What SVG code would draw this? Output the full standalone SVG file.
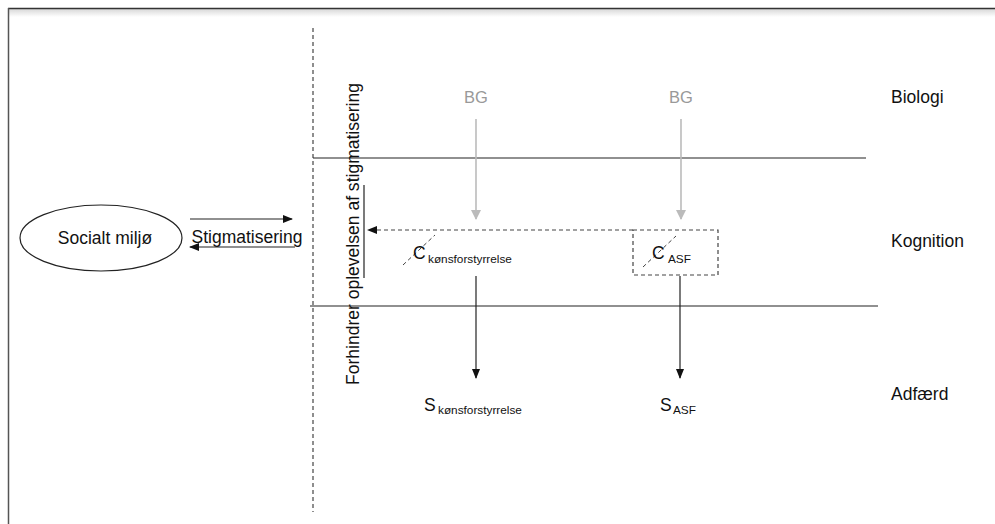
<svg xmlns="http://www.w3.org/2000/svg" width="995" height="524" viewBox="0 0 995 524">
  <style>
    .lbl { font-family: "Liberation Sans", Arial, sans-serif; font-size: 17.5px; fill: #111; }
    .sub { font-family: "Liberation Sans", Arial, sans-serif; font-size: 11.8px; fill: #111; }
    .grey { font-family: "Liberation Sans", Arial, sans-serif; font-size: 16.5px; fill: #999; }
    .solid { stroke: #222; stroke-width: 1.2; fill: none; }
    .dash { stroke: #444; stroke-width: 1.2; stroke-dasharray: 4 3; fill: none; }
    .gray { stroke: #bbb; stroke-width: 1.6; fill: none; }
  </style>
  <defs>
    <marker id="ah" markerWidth="10" markerHeight="8" refX="9" refY="4" orient="auto" markerUnits="userSpaceOnUse">
      <path d="M0,0 L10,4 L0,8 Z" fill="#111"/>
    </marker>
    <marker id="ahg" markerWidth="10" markerHeight="10" refX="9" refY="5" orient="auto" markerUnits="userSpaceOnUse">
      <path d="M0,0 L10,5 L0,10 Z" fill="#bbb"/>
    </marker>
    <linearGradient id="shade" x1="0" y1="0" x2="0" y2="1">
      <stop offset="0" stop-color="#d8d8d8"/>
      <stop offset="1" stop-color="#ffffff"/>
    </linearGradient>
  </defs>

  <rect x="0" y="0" width="995" height="524" fill="#fff"/>
  <!-- page frame -->
  <rect x="9" y="9" width="986" height="8" fill="url(#shade)"/>
  <line x1="8" y1="8.5" x2="995" y2="8.5" stroke="#333" stroke-width="1.5"/>
  <line x1="8.5" y1="8" x2="8.5" y2="524" stroke="#555" stroke-width="1.5"/>

  <!-- layer dividers -->
  <line x1="313" y1="28" x2="313" y2="512" class="dash"/>
  <line x1="313" y1="158" x2="866" y2="158" class="solid"/>
  <line x1="310" y1="306" x2="878" y2="306" class="solid"/>

  <g id="social">
    <ellipse cx="101" cy="238" rx="81" ry="33" fill="#fff" stroke="#222" stroke-width="1.2"/>
    <text x="105" y="244" class="lbl" text-anchor="middle">Socialt miljø</text>
  </g>

  <g id="stigma-label">
    <text x="247" y="243" class="lbl" text-anchor="middle">Stigmatisering</text>
  </g>

  <g id="block">
    <text transform="translate(359,385) rotate(-90)" class="lbl" textLength="302" lengthAdjust="spacingAndGlyphs">Forhindrer oplevelsen af stigmatisering</text>
    <line x1="364" y1="185" x2="364" y2="278" class="solid" stroke-width="1.5"/>
  </g>

  <g id="bg1"><text x="476" y="103" class="grey" text-anchor="middle">BG</text></g>
  <g id="bg2"><text x="681" y="103" class="grey" text-anchor="middle">BG</text></g>

  <g id="c-kons">
    <line x1="403" y1="265" x2="435" y2="235" stroke="#444" stroke-width="1" stroke-dasharray="4 3"/>
    <text x="413" y="259" class="lbl" font-size="18">C</text>
    <text x="428" y="263" class="sub">kønsforstyrrelse</text>
  </g>

  <g id="c-asf">
    <rect x="633" y="230" width="85" height="45" class="dash"/>
    <line x1="643" y1="267" x2="676" y2="236" stroke="#444" stroke-width="1" stroke-dasharray="4 3"/>
    <text x="652" y="259" class="lbl" font-size="18">C</text>
    <text x="668" y="263" class="sub">ASF</text>
  </g>

  <g id="s-kons">
    <text x="424" y="411" class="lbl" font-size="18">S</text>
    <text x="438" y="414" class="sub">kønsforstyrrelse</text>
  </g>
  <g id="s-asf">
    <text x="660" y="411" class="lbl" font-size="18">S</text>
    <text x="673" y="414" class="sub">ASF</text>
  </g>

  <g id="levels">
    <text x="891" y="103" class="lbl">Biologi</text>
    <text x="891" y="247" class="lbl">Kognition</text>
    <text x="891" y="400" class="lbl">Adfærd</text>
  </g>

  <g id="connectors">
    <line x1="190" y1="219" x2="292" y2="219" class="solid" marker-end="url(#ah)"/>
    <line x1="295" y1="247" x2="190" y2="247" class="solid" marker-end="url(#ah)"/>
    <line x1="633" y1="230" x2="368" y2="230" class="dash" marker-end="url(#ah)"/>
    <line x1="476" y1="119" x2="476" y2="219" class="gray" marker-end="url(#ahg)"/>
    <line x1="681" y1="119" x2="681" y2="219" class="gray" marker-end="url(#ahg)"/>
    <line x1="476" y1="276" x2="476" y2="378" class="solid" marker-end="url(#ah)"/>
    <line x1="680" y1="276" x2="680" y2="378" class="solid" marker-end="url(#ah)"/>
  </g>
</svg>
